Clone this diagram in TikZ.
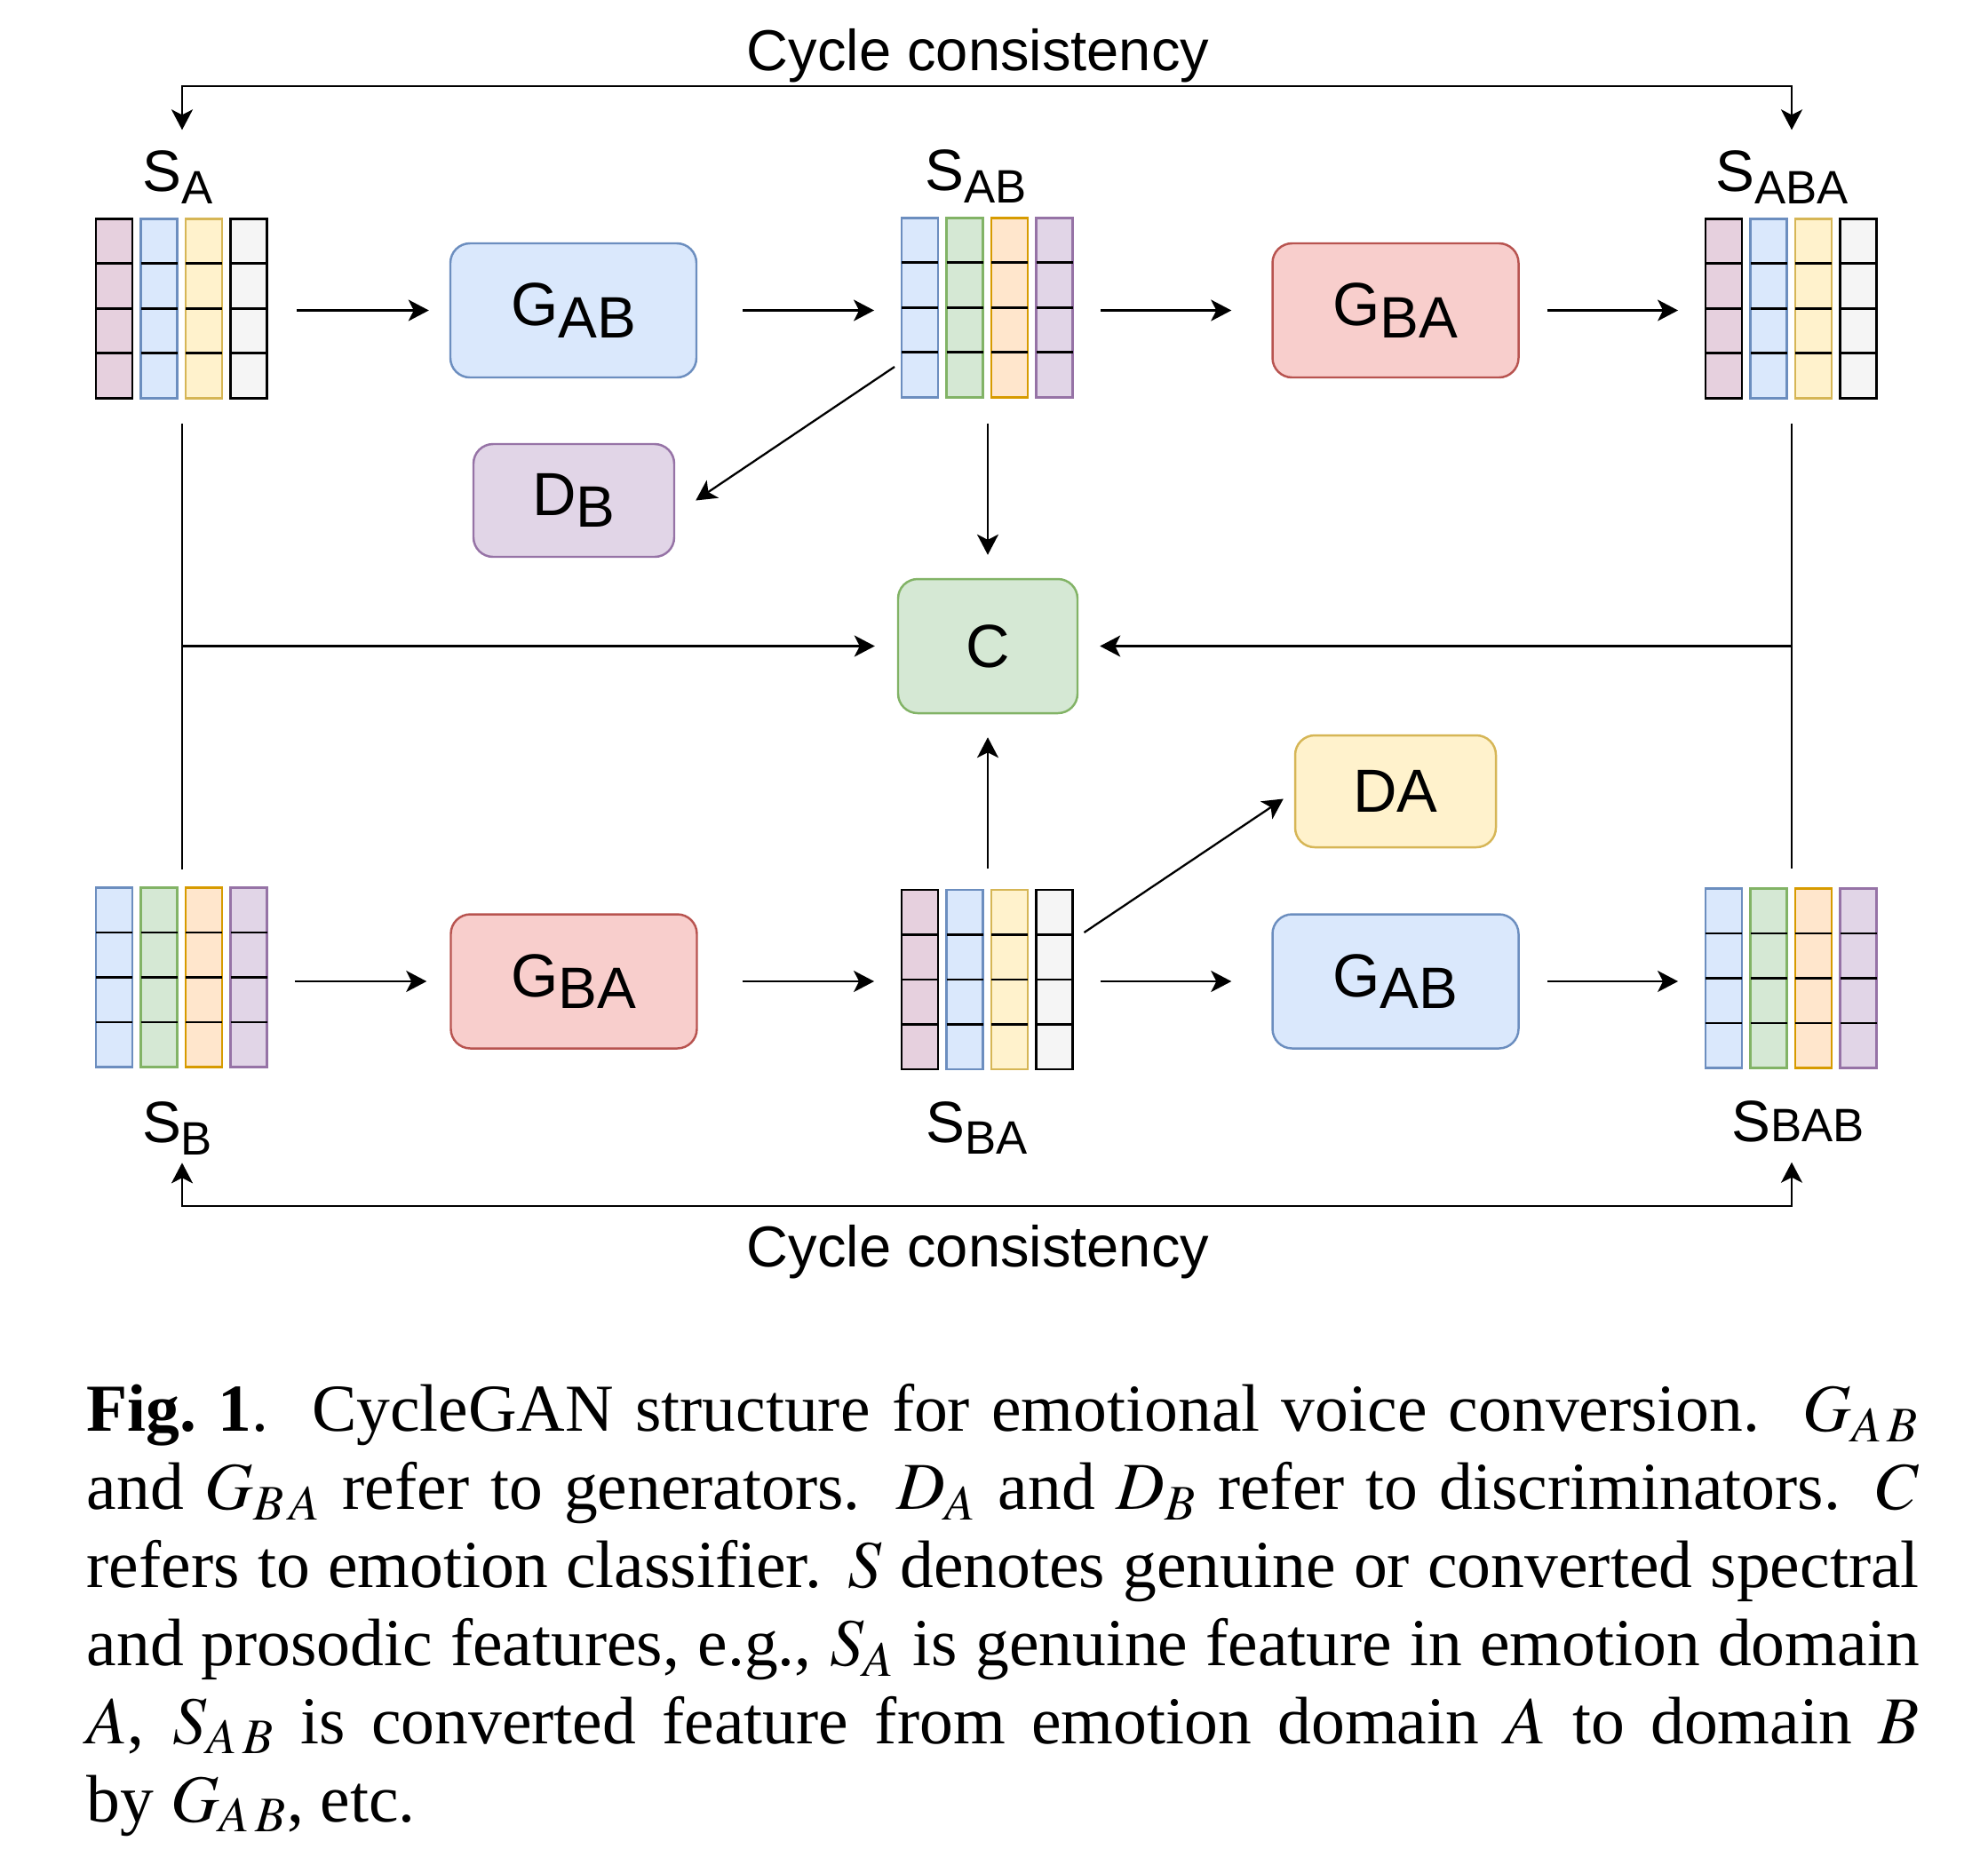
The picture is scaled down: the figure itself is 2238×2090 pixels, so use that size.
\documentclass[tikz,border=0pt]{standalone}
\usepackage{amsmath}
\usepackage{mathptmx}
\usepackage{fontspec}
\setmainfont{Liberation Serif}
\setsansfont{Liberation Sans}
\usetikzlibrary{arrows.meta, positioning}

\definecolor{bluef}{HTML}{DAE8FC}\definecolor{blued}{HTML}{6C8EBF}
\definecolor{redf}{HTML}{F8CECC}\definecolor{redd}{HTML}{B85450}
\definecolor{greenf}{HTML}{D5E8D4}\definecolor{greend}{HTML}{82B366}
\definecolor{yelf}{HTML}{FFF2CC}\definecolor{yeld}{HTML}{D6B656}
\definecolor{oraf}{HTML}{FFE6CC}\definecolor{orad}{HTML}{D79B00}
\definecolor{purf}{HTML}{E1D5E7}\definecolor{purd}{HTML}{9673A6}
\definecolor{pinkf}{HTML}{E6D0DE}\definecolor{grayf}{HTML}{F5F5F5}

\tikzset{
  every node/.style={font=\sffamily},
  blk/.style={minimum width=19.25mm, minimum height=20.2mm, inner sep=0pt},
  colp/.style={fill=pinkf, draw=black},
  colb/.style={fill=bluef, draw=blued},
  coly/.style={fill=yelf, draw=yeld},
  colg/.style={fill=grayf, draw=black},
  colgr/.style={fill=greenf, draw=greend},
  colo/.style={fill=oraf, draw=orad},
  colu/.style={fill=purf, draw=purd},
  box/.style={rounded corners=2.2mm, line width=0.7pt, inner sep=0pt,
    font=\sffamily\fontsize{19.5}{20}\selectfont},
  genab/.style={box, fill=bluef, draw=blued, minimum width=27.7mm, minimum height=15.1mm},
  genba/.style={box, fill=redf, draw=redd, minimum width=27.7mm, minimum height=15.1mm},
  disb/.style={box, fill=purf, draw=purd, minimum width=22.6mm, minimum height=12.7mm},
  disa/.style={box, fill=yelf, draw=yeld, minimum width=22.6mm, minimum height=12.6mm},
  clsbox/.style={box, fill=greenf, draw=greend, minimum width=20.2mm, minimum height=15.1mm},
  arr/.style={-{Stealth[length=2.3mm, width=2.4mm, inset=0.6mm]}, line width=0.65pt},
  cycarr/.style={{Stealth[length=2.3mm, width=2.4mm, inset=0.6mm]}-{Stealth[length=2.3mm, width=2.4mm, inset=0.6mm]}, line width=0.65pt},
  plain/.style={line width=0.65pt},
  slbl/.style={inner sep=0pt, anchor=base, font=\sffamily\fontsize{18.7}{19}\selectfont},
  cyc/.style={inner sep=0pt, anchor=base, font=\sffamily\fontsize{18.5}{19}\selectfont},
  capt/.style={inner sep=0pt, anchor=north west, text width=206.3mm, align=justify,
    font=\rmfamily\fontsize{21.5}{25}\selectfont}
}

\newcommand{\gsub}[2]{#1\raisebox{-3.8pt}{\fontsize{18.7}{19}\selectfont #2}}
\newcommand{\ssub}[2]{#1\raisebox{-3.8pt}{\fontsize{15}{16}\selectfont #2}}
% feature block: name, centre, column styles
\newcommand{\featblock}[3]{%
  \node[blk] (#1) at (#2) {};
  \foreach \col [count=\ci from 0] in {#3} {
    \draw[\col, line width=0.75pt] ([xshift=\ci*5.05mm]#1.north west) rectangle ++(41,202);
    \foreach \rr in {1,2,3}
      \draw[line width=0.75pt] ([xshift=\ci*5.05mm, yshift=-\rr*5.05mm]#1.north west) -- ++(41,0);
  }
}

\begin{document}
\begin{tikzpicture}[x=0.1mm, y=-0.1mm]
\useasboundingbox (0,0) rectangle (2238,2090);
%% feature blocks
\featblock{sA}{205,348}{colp,colb,coly,colg}
\featblock{sAB}{1112,347}{colb,colgr,colo,colu}
\featblock{sABA}{2017,348}{colp,colb,coly,colg}
\featblock{sB}{205,1101}{colb,colgr,colo,colu}
\featblock{sBA}{1112,1103.5}{colp,colb,coly,colg}
\featblock{sBAB}{2017,1102}{colb,colgr,colo,colu}
\node[slbl] (lA) at ([xshift=-0.5mm, yshift=3.05mm]sA.north) {\ssub{S}{A}};
\node[slbl] (lAB) at ([xshift=-1.35mm, yshift=3.05mm]sAB.north) {\ssub{S}{AB}};
\node[slbl] (lABA) at ([xshift=-1.1mm, yshift=3.05mm]sABA.north) {\ssub{S}{ABA}};
\node[slbl] (lB) at ([xshift=-0.55mm, yshift=-8.4mm]sB.south) {\ssub{S}{B}};
\node[slbl] (lBA) at ([xshift=-1.25mm, yshift=-8.1mm]sBA.south) {\ssub{S}{BA}};
\node[slbl] (lBAB) at ([xshift=0.7mm, yshift=-8.2mm]sBAB.south) {S{\fontsize{15}{16}\selectfont BAB}};
%% generators, discriminators, classifier
\node[genab] (gAB) at (645.5,349.5) {\gsub{G}{AB}};
\node[genba] (gBA) at (1571,349.5) {\gsub{G}{BA}};
\node[disb] (dB) at (646,563.5) {\gsub{D}{B}};
\node[clsbox] (cls) at (1112,727.5) {C};
\node[disa] (dA) at (1571,891) {DA};
\node[genba] (gBA2) at (646,1105) {\gsub{G}{BA}};
\node[genab] (gAB2) at (1571,1105) {\gsub{G}{AB}};
%% top row
\draw[arr, shorten <=3.25mm, shorten >=2.3mm] (sA.east |- gAB) -- (gAB.west);
\draw[arr, shorten <=5.1mm, shorten >=3.1mm] (gAB.east) -- (gAB -| sAB.west);
\draw[arr, shorten <=3mm, shorten >=4.5mm] (sAB.east |- gBA) -- (gBA.west);
\draw[arr, shorten <=3.1mm, shorten >=3.1mm] (gBA.east) -- (gBA -| sABA.west);
%% bottom row
\draw[arr, shorten <=3mm, shorten >=2.6mm] (sB.east |- gBA2) -- (gBA2.west);
\draw[arr, shorten <=5mm, shorten >=3.1mm] (gBA2.east) -- (gBA2 -| sBA.west);
\draw[arr, shorten <=3mm, shorten >=4.5mm] (sBA.east |- gAB2) -- (gAB2.west);
\draw[arr, shorten <=3.1mm, shorten >=3.1mm] (gAB2.east) -- (gAB2 -| sBAB.west);
%% discriminators
\draw[arr] ([xshift=-0.8mm, yshift=-6.6mm]sAB.west) -- ([xshift=2.3mm]dB.east);
\draw[arr] ([xshift=1.15mm, yshift=5.35mm]sBA.east) -- ([xshift=-1.2mm, yshift=-0.85mm]dA.west);
%% classifier
\draw[arr, shorten <=2.8mm, shorten >=2.6mm] (sAB.south) -- (cls.north);
\draw[arr, shorten <=2.35mm, shorten >=2.6mm] (sBA.north) -- (cls.south);
\draw[plain] ([yshift=-2.7mm]sA.south) -- ([yshift=2mm]sB.north);
\draw[arr, shorten >=2.5mm] (sA |- cls) -- (cls.west);
\draw[plain] ([yshift=-2.7mm]sABA.south) -- ([yshift=2.2mm]sBAB.north);
\draw[arr, shorten >=2.4mm] (sABA |- cls) -- (cls.east);
%% cycle consistency
\node[cyc] (cycTop) at (1101,79.5) {Cycle consistency};
\draw[cycarr] ([yshift=10mm]sA.north) -- ([yshift=14.95mm]sA.north) -| ([yshift=10mm]sABA.north);
\node[cyc] (cycBot) at (1101,1426) {Cycle consistency};
\draw[cycarr] ([yshift=-10.66mm]sB.south) -- ([yshift=-15.5mm]sB.south) -| ([yshift=-10.5mm]sBAB.south);
%% caption
\node[capt] (caption) at (97,1558) {\textbf{Fig.~1}.\ \ CycleGAN structure for emotional voice conversion.\ \ $G_{A\mkern2mu B}$\linebreak
and $G_{B\mkern2mu A}$ refer to generators. $D_A$ and $D_B$ refer to discriminators. $C$\linebreak
refers to emotion classifier. $S$ denotes genuine or converted spectral\linebreak
and prosodic features, e.g., $S_A$ is genuine feature in emotion domain\linebreak
$A$, $S_{A\mkern2mu B}$ is converted feature from emotion domain $A$ to domain $B$\linebreak
by $G_{A\mkern2mu B}$, etc.};
\end{tikzpicture}
\end{document}
